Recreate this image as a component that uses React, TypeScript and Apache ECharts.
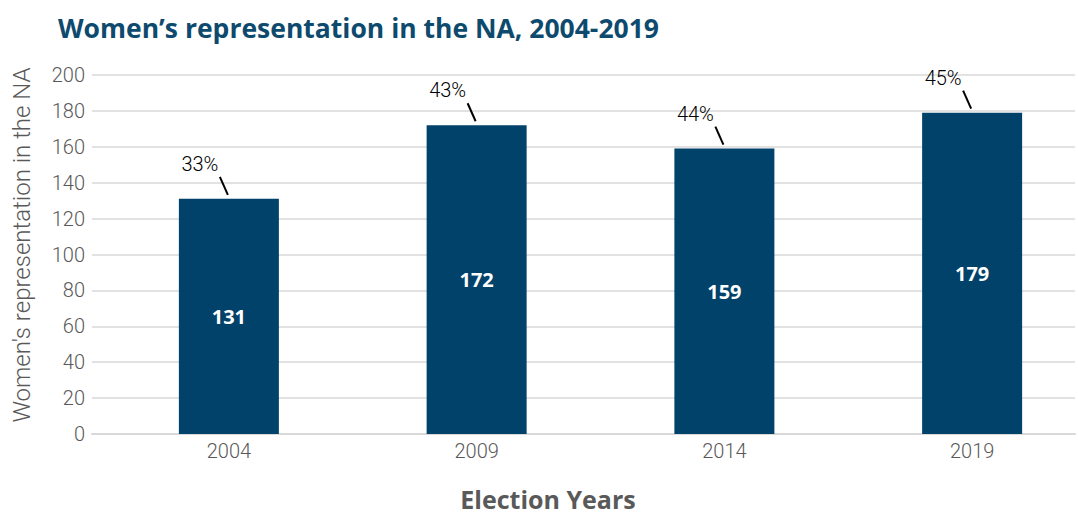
import React, { useEffect, useRef } from "react";
import * as echarts from "echarts";

const categories = ["2004", "2009", "2014", "2019"];
const seats = [131, 172, 159, 179];
const shares = ["33%", "43%", "44%", "45%"];
const yMin = 0;
const yMax = 200;
const yInterval = 20;

const FONT = "'Roboto', 'Noto Sans', sans-serif";
const BOLD_FONT = "'Open Sans', 'Noto Sans', sans-serif";

// The chart canvas is slightly wider than the 1078px window; the part beyond is simply not seen.
const CANVAS_W = 1100;
const CANVAS_H = 517;

export default function App() {
  const ref = useRef<HTMLDivElement>(null);
  useEffect(() => {
    if (!ref.current) return;
    const chart = echarts.init(ref.current, null, { renderer: "svg" });
    chart.setOption({
      animation: false,
      backgroundColor: "#ffffff",
      title: {
        text: "Women\u2019s representation in the NA, 2004-2019",
        left: 53,
        top: 9,
        textStyle: { color: "#0E4A6E", fontSize: 26.5, fontWeight: "bold", fontFamily: BOLD_FONT },
      },
      graphic: [
        {
          type: "text",
          x: 22,
          y: 245,
          rotation: Math.PI / 2,
          style: {
            text: "Women's representation in the NA",
            x: 0,
            y: 0,
            align: "center",
            verticalAlign: "middle",
            fill: "#595959",
            font: `300 24px ${FONT}`,
          },
        },
        {
          type: "text",
          style: {
            text: "Election Years",
            x: 548,
            y: 499,
            align: "center",
            verticalAlign: "middle",
            lineHeight: 26,
            fill: "#595959",
            font: `bold 25px ${BOLD_FONT}`,
          },
        },
      ],
      grid: [
        { left: 92, right: CANVAS_W - 1075, top: 75, bottom: 83 },
        { left: 105, right: CANVAS_W - 1096, top: 75, bottom: 83 },
      ],
      xAxis: [
        {
          type: "category",
          gridIndex: 0,
          data: categories,
          axisLine: { show: true, lineStyle: { color: "#D9D9D9", width: 2 } },
          axisTick: { show: false },
          axisLabel: { show: false },
        },
        {
          type: "category",
          gridIndex: 1,
          data: categories,
          axisLine: { show: false },
          axisTick: { show: false },
          axisLabel: { color: "#595959", fontSize: 20, fontFamily: FONT, fontWeight: 300, margin: 7 },
        },
      ],
      yAxis: [
        {
          type: "value",
          gridIndex: 0,
          min: yMin,
          max: yMax,
          interval: yInterval,
          axisLine: { show: false },
          axisTick: { show: false },
          axisLabel: { color: "#595959", fontSize: 20, fontFamily: FONT, fontWeight: 300, margin: 7 },
          splitLine: { lineStyle: { color: "#D9D9D9", width: 1.5 } },
        },
        {
          type: "value",
          gridIndex: 1,
          min: yMin,
          max: yMax,
          interval: yInterval,
          show: false,
          splitLine: { show: false },
        },
      ],
      series: [
        {
          type: "bar",
          xAxisIndex: 1,
          yAxisIndex: 1,
          data: seats,
          barWidth: 100,
          itemStyle: { color: "#01426A" },
          label: {
            show: true,
            position: "inside",
            color: "#ffffff",
            fontSize: 20,
            fontWeight: "bold",
            fontFamily: BOLD_FONT,
          },
        },
        {
          type: "custom",
          xAxisIndex: 1,
          yAxisIndex: 1,
          data: categories.map((_, i) => [i, seats[i]]),
          encode: { x: 0, y: 1 },
          renderItem: (params: any, api: any) => {
            const p = api.coord([api.value(0), api.value(1)]);
            return {
              type: "group",
              children: [
                {
                  type: "line",
                  shape: { x1: p[0] - 1, y1: p[1] - 4, x2: p[0] - 9, y2: p[1] - 22 },
                  style: { stroke: "#000000", lineWidth: 2 },
                },
                {
                  type: "text",
                  x: p[0] - 29,
                  y: p[1] - 35,
                  style: {
                    text: shares[params.dataIndex],
                    align: "center",
                    verticalAlign: "middle",
                    fill: "#000000",
                    font: `300 20px ${FONT}`,
                  },
                },
              ],
            };
          },
        },
      ],
    });
    return () => chart.dispose();
  }, []);
  return (
    <div
      ref={ref}
      style={{ position: "fixed", left: 0, top: 0, width: CANVAS_W, height: CANVAS_H }}
    />
  );
}
